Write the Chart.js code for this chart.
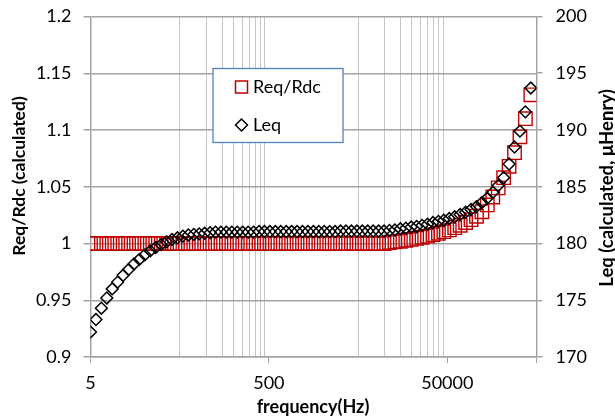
<!DOCTYPE html>
<html>
<head>
<meta charset="utf-8">
<script src="https://cdn.jsdelivr.net/npm/chart.js@4.4.1/dist/chart.umd.min.js"></script>
<style>
  html, body { margin: 0; padding: 0; background: #ffffff; }
  #wrap { width: 615px; height: 420px; }
</style>
</head>
<body>
<div id="wrap"><canvas id="c" width="615" height="420"></canvas></div>
<script>
// ---- data ----
const frequency = [
  5, 5.753, 6.62, 7.617, 8.764, 10.09, 11.6, 13.35, 15.36, 17.67,
  20.34, 23.4, 26.92, 30.98, 35.65, 41.02, 47.2, 54.31, 62.49, 71.91,
  82.74, 95.21, 109.6, 126.1, 145, 166.9, 192, 221, 254.3, 292.6,
  336.7, 387.4, 445.7, 512.9, 590.2, 679.1, 781.4, 899.1, 1034, 1190,
  1369, 1576, 1813, 2086, 2401, 2762, 3178, 3657, 4208, 4842,
  5572, 6411, 7377, 8489, 9767, 11239, 12932, 14881, 17123, 19702,
  22671, 26086, 30016, 34539, 39742, 45729, 52618, 60545, 69667, 80162,
  92239, 106134, 122124, 140522, 161692, 186050, 214080, 246330, 283440, 326140,
  375270, 431800
];
const reqRdc = [
  1, 1, 1, 1, 1, 1, 1, 1, 1, 1,
  1, 1, 1, 1, 1, 1, 1, 1, 1, 1,
  1, 1, 1, 1, 1, 1, 1, 1, 1, 1,
  1, 1, 1, 1, 1, 1, 1, 1, 1, 1,
  1, 1, 1, 1, 1, 1, 1, 1, 1, 1,
  1, 1, 1, 1, 1, 1.0008, 1.0015, 1.002, 1.0028, 1.0036,
  1.0045, 1.0055, 1.0065, 1.0078, 1.009, 1.0104, 1.012, 1.014, 1.016, 1.0185,
  1.021, 1.024, 1.028, 1.034, 1.041, 1.049, 1.058, 1.068, 1.08, 1.094,
  1.11, 1.131
];
const leq = [
  172.2, 173.3, 174.3, 175.2, 176.0, 176.6, 177.2, 177.7, 178.2, 178.6,
  179.0, 179.35, 179.65, 179.9, 180.15, 180.35, 180.5, 180.65, 180.75, 180.8,
  180.85, 180.9, 180.95, 181.0, 181.0, 181.0, 181.0, 181.0, 181.0, 181.0,
  181.0, 181.05, 181.05, 181.05, 181.05, 181.05, 181.05, 181.05, 181.05, 181.05,
  181.05, 181.05, 181.05, 181.05, 181.05, 181.05, 181.1, 181.1, 181.1, 181.1,
  181.1, 181.1, 181.1, 181.1, 181.1, 181.15, 181.2, 181.3, 181.35, 181.45,
  181.5, 181.6, 181.7, 181.85, 181.95, 182.05, 182.2, 182.35, 182.55, 182.75,
  183.0, 183.25, 183.6, 184.0, 184.5, 185.1, 185.8, 187.0, 188.5, 189.9,
  191.6, 193.7
];
const xGridValues = [5, 50, 100, 150, 200, 250, 300, 350, 400, 450, 500,
  5000, 10000, 15000, 20000, 25000, 30000, 35000, 40000, 45000, 50000, 500000];
const xLabelValues = [5, 500, 50000];
const xNoGrid = [5, 500, 50000, 500000];
const xTickMarks = [5, 500, 50000, 500000];
const seriesNames = ['Req/Rdc', 'Leq'];
const axisTitles = ['Req/Rdc (calculated)', 'Leq (calculated, \u03bcHenry)', 'frequency(Hz)'];

const FONT = 'Lato, "Open Sans", sans-serif';
const RED = '#c00000';
const GRID_H = '#a3a3a3';
const GRID_V = '#c6c6c6';

const reqPts = frequency.map((f, i) => ({x: f, y: reqRdc[i]}));
const leqPts = frequency.map((f, i) => ({x: f, y: leq[i]}));

const overlay = {
  id: 'overlay',
  afterDraw(chart) {
    const ctx = chart.ctx;
    ctx.save();
    ctx.fillStyle = '#000';
    ctx.font = 'bold 17.5px ' + FONT;
    ctx.textAlign = 'center';
    ctx.textBaseline = 'middle';
    // left title
    ctx.save();
    ctx.translate(19, 176);
    ctx.rotate(-Math.PI / 2);
    ctx.fillText(axisTitles[0], 0, 0);
    ctx.restore();
    // right title
    ctx.save();
    ctx.font = 'bold 18.5px ' + FONT;
    ctx.translate(607, 188);
    ctx.rotate(-Math.PI / 2);
    ctx.fillText(axisTitles[1], 0, 0);
    ctx.restore();
    // x title
    ctx.font = 'bold 18px ' + FONT;
    ctx.fillText(axisTitles[2], 313, 407);

    // legend box
    const lx = 213, ly = 68.5, lw = 130, lh = 74;
    ctx.fillStyle = '#ffffff';
    ctx.fillRect(lx, ly, lw, lh);
    ctx.strokeStyle = '#4f81bd';
    ctx.lineWidth = 1.3;
    ctx.strokeRect(lx, ly, lw, lh);
    // square
    ctx.strokeStyle = RED;
    ctx.lineWidth = 1.5;
    ctx.strokeRect(235.5, 81, 12, 12);
    // diamond
    ctx.strokeStyle = '#000';
    ctx.beginPath();
    ctx.moveTo(241.5, 119); ctx.lineTo(247.5, 125); ctx.lineTo(241.5, 131); ctx.lineTo(235.5, 125);
    ctx.closePath();
    ctx.stroke();
    ctx.fillStyle = '#000';
    ctx.font = '18px ' + FONT;
    ctx.textAlign = 'left';
    ctx.fillText(seriesNames[0], 253, 87.5);
    ctx.fillText(seriesNames[1], 253, 125.5);
    ctx.restore();
  }
};

new Chart(document.getElementById('c'), {
  type: 'scatter',
  data: {
    datasets: [
      {
        label: seriesNames[0],
        data: reqPts,
        yAxisID: 'y',
        pointStyle: 'rect',
        pointRadius: 9.5,
        pointHoverRadius: 9.5,
        borderColor: RED,
        backgroundColor: 'rgba(0,0,0,0)',
        pointBorderWidth: 1.4,
        showLine: false,
        order: 2
      },
      {
        label: seriesNames[1],
        data: leqPts,
        yAxisID: 'y2',
        pointStyle: 'rectRot',
        pointRadius: 5.9,
        pointHoverRadius: 5.9,
        borderColor: '#000000',
        backgroundColor: 'rgba(0,0,0,0)',
        pointBorderWidth: 1.5,
        showLine: false,
        order: 1
      }
    ]
  },
  options: {
    responsive: false,
    animation: false,
    events: [],
    layout: { padding: { top: 16.5, left: 0, right: 0, bottom: 0 } },
    plugins: { legend: { display: false }, tooltip: { enabled: false } },
    scales: {
      x: {
        type: 'logarithmic',
        position: 'bottom',
        min: 5,
        max: 500000,
        afterBuildTicks(scale) { scale.ticks = xGridValues.map(v => ({value: v})); },
        afterFit(scale) { scale.height = 63; scale.paddingLeft = 0; scale.paddingRight = 0; },
        grid: {
          color: (c) => (c.tick && xNoGrid.includes(c.tick.value)) ? 'rgba(0,0,0,0)' : GRID_V,
          tickColor: (c) => (c.tick && xTickMarks.includes(c.tick.value)) ? GRID_H : 'rgba(0,0,0,0)',
          lineWidth: 1,
          tickLength: 6,
          drawTicks: true
        },
        border: { display: true, color: GRID_H, width: 1.5 },
        ticks: {
          autoSkip: false,
          maxRotation: 0,
          padding: 9,
          color: '#000',
          font: { family: FONT, size: 18 },
          callback: (v) => xLabelValues.includes(v) ? String(v) : ''
        }
      },
      y: {
        position: 'left',
        min: 0.9,
        max: 1.2,
        afterFit(scale) { scale.width = 90.5; scale.paddingTop = 0; scale.paddingBottom = 0; },
        grid: { color: GRID_H, lineWidth: 1.5, tickLength: 7, drawTicks: true },
        border: { display: true, color: GRID_H, width: 1.5 },
        ticks: {
          stepSize: 0.05,
          padding: 12,
          color: '#000',
          font: { family: FONT, size: 18 },
          callback: (v) => String(+v.toFixed(2))
        }
      },
      y2: {
        position: 'right',
        min: 170,
        max: 200,
        afterFit(scale) { scale.width = 78.5; scale.paddingTop = 0; scale.paddingBottom = 0; },
        grid: { drawOnChartArea: false, color: GRID_H, lineWidth: 1.5, tickLength: 6, drawTicks: true },
        border: { display: true, color: GRID_H, width: 1.5 },
        ticks: {
          stepSize: 5,
          padding: 13,
          color: '#000',
          font: { family: FONT, size: 18 },
          callback: (v) => String(Math.round(v))
        }
      }
    }
  },
  plugins: [overlay]
});
</script>
</body>
</html>
